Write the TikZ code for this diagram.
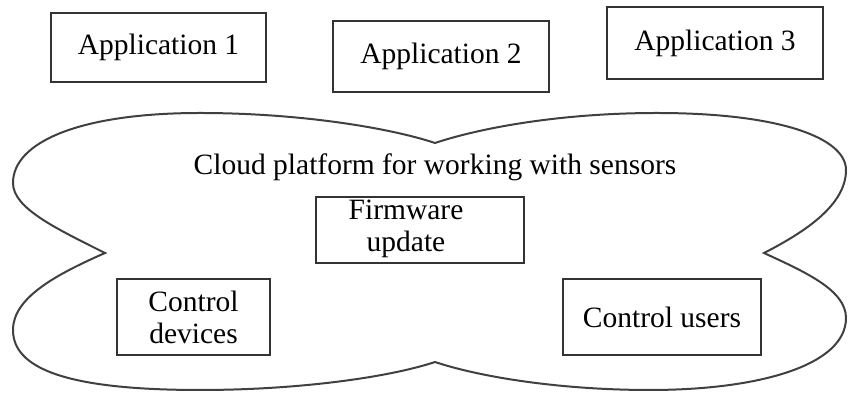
\documentclass[tikz,border=0pt]{standalone}
\usepackage{fontspec}
\setmainfont{Liberation Serif}
\begin{document}
\begin{tikzpicture}[x=0.5pt,y=-0.5pt,
  box/.style={draw=black!80,line width=1pt,rectangle,inner sep=0pt},
  txt/.style={inner sep=0pt,align=center,font=\fontsize{14.75}{16}\selectfont},
  cloudline/.style={draw=black!75,line width=1pt,line join=miter}]
\useasboundingbox (0,0) rectangle (848,394);
% cloud
\coordinate (T) at (435,143);
\coordinate (R) at (764,253);
\coordinate (B) at (435,362);
\coordinate (L) at (105,253);
\draw[cloudline] (L) .. controls (55,228) and (13,208) .. (13,183)
  .. controls (13,142) and (80,113) .. (200,113)
  .. controls (300,113) and (390,128) .. (T)
  .. controls (480,128) and (560,113) .. (657,113)
  .. controls (780,113) and (846,138) .. (846,170)
  .. controls (846,205) and (805,232) .. (R)
  .. controls (805,272) and (846,290) .. (846,318)
  .. controls (846,365) and (760,390) .. (650,390)
  .. controls (560,390) and (480,377) .. (B)
  .. controls (390,377) and (300,390) .. (200,390)
  .. controls (65,390) and (13,368) .. (13,330)
  .. controls (13,298) and (55,275) .. (L) -- cycle;
\node[txt,anchor=base] (cloudlabel) at (435,175) {Cloud platform for working with sensors};
% applications
\node[box,txt,minimum width=107.5pt,minimum height=34.5pt] (app1) at (158.5,47.5) {Application 1};
\node[box,txt,minimum width=108pt,minimum height=35.5pt] (app2) at (441,56.5) {Application 2};
\node[box,txt,minimum width=108pt,minimum height=36pt] (app3) at (715,43) {Application 3};
% inner boxes
\node[box,minimum width=104pt,minimum height=33pt] (fw) at (420,230) {};
\node[txt] (fwt) at (406,229) {Firmware\\update};
\node[box,txt,minimum width=76.5pt,minimum height=38pt] (cd) at (193.5,317) {Control\\devices};
\node[box,txt,minimum width=99pt,minimum height=38pt] (cu) at (662,317) {Control users};
\end{tikzpicture}
\end{document}
